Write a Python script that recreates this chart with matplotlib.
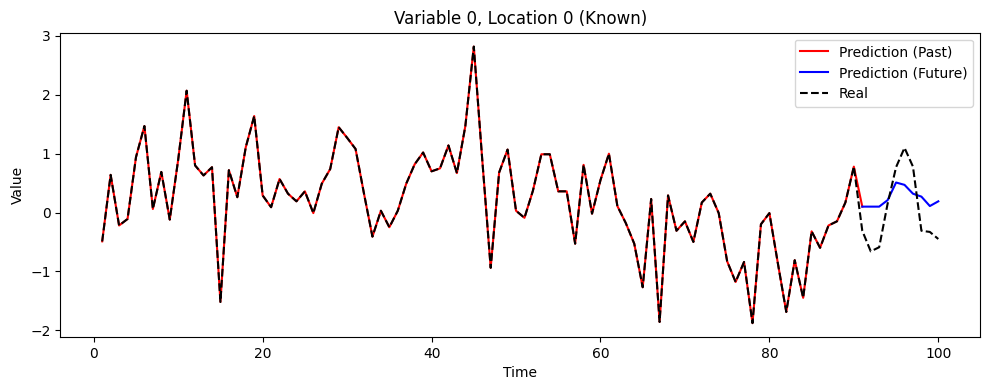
import numpy as np
import matplotlib.pyplot as plt

# observed series, t = 1..100
real = [-0.49, 0.64, -0.22, -0.11, 0.94, 1.47, 0.06, 0.69, -0.12, 0.90,
        2.07, 0.80, 0.63, 0.77, -1.52, 0.72, 0.26, 1.11, 1.64, 0.29,
        0.09, 0.57, 0.32, 0.19, 0.36, -0.01, 0.49, 0.74, 1.45, 1.27,
        1.08, 0.32, -0.41, 0.03, -0.25, 0.03, 0.49, 0.82, 1.02, 0.70,
        0.75, 1.14, 0.67, 1.47, 2.82, 0.90, -0.94, 0.68, 1.07, 0.03,
        -0.09, 0.37, 0.99, 0.99, 0.36, 0.36, -0.53, 0.81, -0.02, 0.55,
        1.00, 0.11, -0.18, -0.53, -1.27, 0.23, -1.86, 0.29, -0.31, -0.15,
        -0.50, 0.17, 0.32, -0.01, -0.83, -1.18, -0.84, -1.88, -0.20, -0.01,
        -0.86, -1.69, -0.81, -1.45, -0.32, -0.60, -0.22, -0.15, 0.17, 0.78,
        -0.31, -0.66, -0.59, 0.15, 0.77, 1.10, 0.78, -0.31, -0.33, -0.45]

# model output for t = 91..100
pred_future = [0.10, 0.10, 0.10, 0.21, 0.51, 0.47, 0.32, 0.27, 0.11, 0.19]

n_past = 90
time = np.arange(1, len(real) + 1)
# past fit sits on top of the observations, joined to the first forecast
pred_past = real[:n_past] + pred_future[:1]

fig, ax = plt.subplots(figsize=(9.9, 3.9))
ax.plot(time[:n_past + 1], pred_past, color='red', label='Prediction (Past)')
ax.plot(time[n_past:], pred_future, color='blue', label='Prediction (Future)')
ax.plot(time, real, 'k--', label='Real')
ax.set_title('Variable 0, Location 0 (Known)')
ax.set_xlabel('Time')
ax.set_ylabel('Value')
ax.legend(loc='upper right')
fig.subplots_adjust(left=0.061, right=0.990, top=0.916, bottom=0.136)
fig.savefig('out.png', dpi=100)
